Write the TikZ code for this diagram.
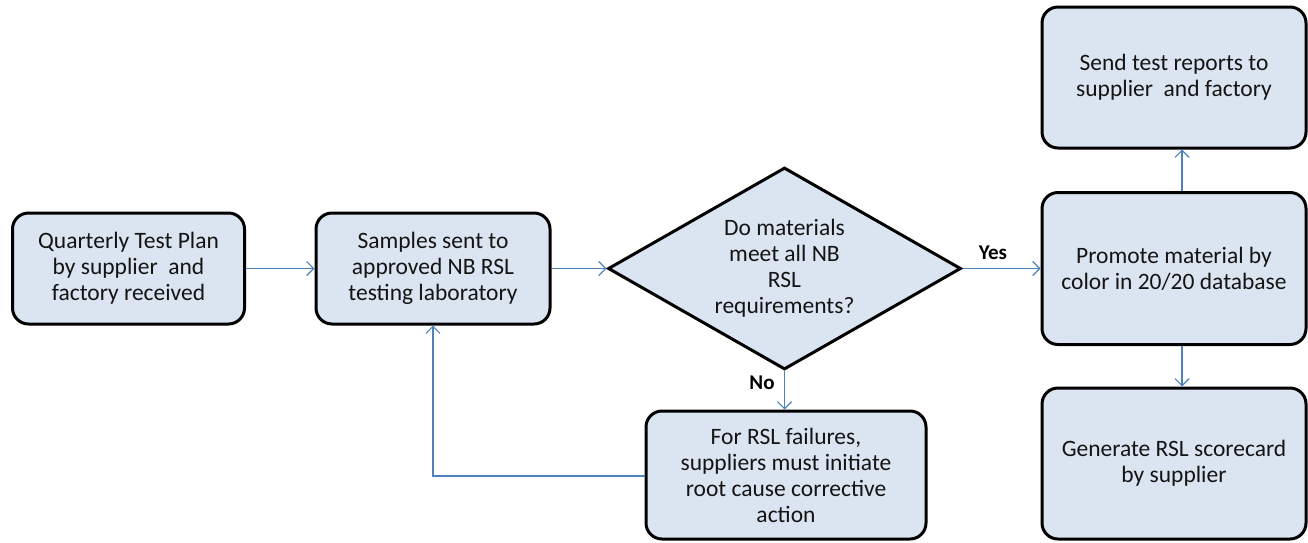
\documentclass[tikz,border=0pt]{standalone}
\usepackage{fontspec}
\setmainfont{Carlito}
\usetikzlibrary{shapes.geometric,arrows.meta}
\definecolor{boxfill}{HTML}{DBE5F1}
\definecolor{lineblue}{HTML}{4F81BD}
\definecolor{txt}{HTML}{141414}
\tikzset{
  stepbox/.style={draw=black, line width=3pt, fill=boxfill, rounded corners=16pt,
    align=center, text=txt, inner sep=0pt, font=\fontsize{23.5}{26}\selectfont},
  decision/.style={draw=black, line width=3pt, fill=boxfill, diamond, inner sep=0pt,
    shape aspect=1.75, align=center, text=txt, font=\fontsize{23.5}{26}\selectfont},
  conn/.style={draw=lineblue, line width=1.2pt, -{Straight Barb[length=7pt,width=14pt,line width=1.2pt]}},
  lbl/.style={font=\bfseries\fontsize{21}{24}\selectfont, text=black}
}
\begin{document}
\begin{tikzpicture}[x=1pt,y=-1pt]
\useasboundingbox (0,0) rectangle (1308,542);
\node[stepbox, minimum width=232pt, minimum height=111pt] (q) at (128.5,268.5)
  {Quarterly Test Plan\\by supplier~ and\\factory received};
\node[stepbox, minimum width=234pt, minimum height=111pt] (s) at (433,268.5)
  {Samples sent to\\approved NB RSL\\testing laboratory};
\node[decision, minimum width=353pt, minimum height=202pt] (d) at (784.5,268.5)
  {Do materials\\meet all NB\\RSL\\requirements?};
\node[stepbox, minimum width=280pt, minimum height=128pt] (r) at (786,475)
  {For RSL failures,\\suppliers must initiate\\root cause corrective\\action};
\node[stepbox, minimum width=264pt, minimum height=141pt] (send) at (1174,77.5)
  {Send test reports to\\supplier~ and factory};
\node[stepbox, minimum width=264pt, minimum height=152pt] (prom) at (1174,268.5)
  {Promote material by\\color in 20/20 database};
\node[stepbox, minimum width=264pt, minimum height=151pt] (gen) at (1174,463.5)
  {Generate RSL scorecard\\by supplier};
\draw[conn] (q.east) -- (s.west);
\draw[conn] (s.east) -- (d.west);
\draw[conn] (d.east) -- (prom.west);
\draw[conn] (d.south) -- (d.south |- r.north);
\coordinate (fb) at (433,476);
\draw[conn] (r.west |- fb) -- (fb) -- (s.south);
\coordinate (up) at (1182,0);
\draw[conn] (prom.north -| up) -- (send.south -| up);
\draw[conn] (prom.south -| up) -- (gen.north -| up);
\node[lbl] (yes) at (993,253) {Yes};
\node[lbl] (no) at (762,383) {No};
\end{tikzpicture}
\end{document}
